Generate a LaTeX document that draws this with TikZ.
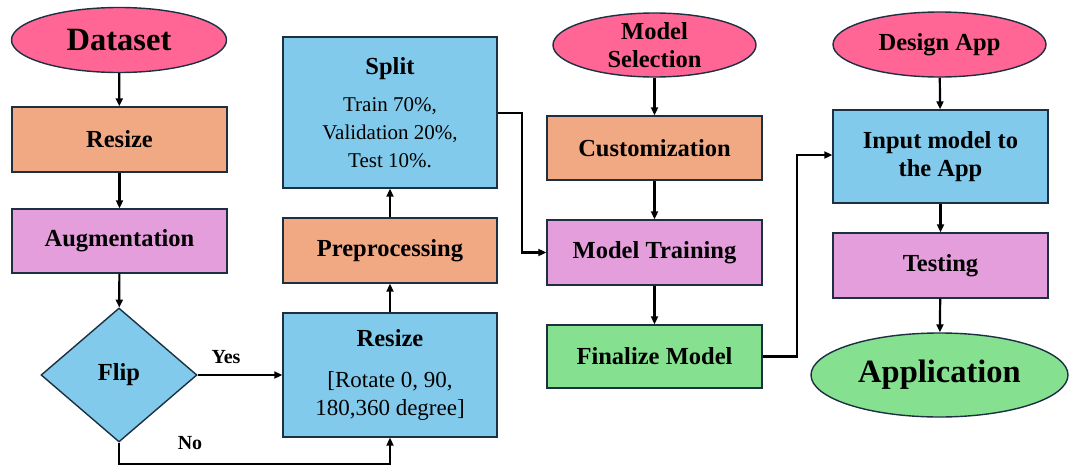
\documentclass[tikz,border=0pt]{standalone}
\usepackage{fontspec}
\setmainfont{Liberation Serif}
\usetikzlibrary{shapes.geometric,arrows.meta,positioning}
\definecolor{pinkfill}{RGB}{255,102,150}
\definecolor{salmon}{RGB}{241,169,131}
\definecolor{lilac}{RGB}{228,158,220}
\definecolor{skyb}{RGB}{130,202,235}
\definecolor{greenf}{RGB}{133,224,144}
\definecolor{edgec}{RGB}{28,48,66}
\newcommand{\regtext}{\mdseries\fontsize{23}{25}\selectfont}
\newcommand{\smalltext}{\mdseries\fontsize{21}{25}\selectfont}
\tikzset{
  base/.style={draw=edgec, line width=1.4pt, inner sep=0pt, align=center,
    font=\fontsize{24.5}{28}\selectfont\bfseries},
  boxs/.style={base, rectangle, minimum width=215pt},
  ell/.style={base, ellipse},
  arr/.style={line width=2.2pt, -{Triangle[length=8pt,width=7pt]}},
  lab/.style={font=\fontsize{20}{24}\selectfont\bfseries, inner sep=0pt},
}
\begin{document}
\begin{tikzpicture}[x=1pt,y=-1pt]
\useasboundingbox (0,0) rectangle (1069,466);
% column 1
\node[ell, fill=pinkfill, minimum width=215pt, minimum height=65pt,
  font=\fontsize{32.5}{36}\selectfont\bfseries] (dataset) at (119,40) {Dataset};
\node[boxs, fill=salmon, minimum height=65pt] (resize1) at (119.5,139.5) {Resize};
\node[boxs, fill=lilac, minimum height=64pt] (aug) at (119.5,241) {Augmentation};
\node[base, diamond, fill=skyb, minimum width=156pt, minimum height=134pt] (flip) at (119,375) {Flip};
% column 2
\node[boxs, fill=skyb, minimum width=214pt, minimum height=124pt] (resize2) at (390,375)
  {Resize\\[13pt]\regtext [Rotate 0, 90,\\\regtext 180,360 degree]};
\node[boxs, fill=salmon, minimum width=214pt, minimum height=65pt] (prep) at (390,250.5) {Preprocessing};
\node[boxs, fill=skyb, minimum width=214pt, minimum height=151pt] (split) at (390,112.5)
  {Split\\[9pt]\smalltext Train 70\%,\\\smalltext Validation 20\%,\\\smalltext Test 10\%.};
% column 3
\node[ell, fill=pinkfill, minimum width=203pt, minimum height=64pt] (msel) at (654.5,45) {Model\\Selection};
\node[boxs, fill=salmon, minimum height=64pt] (custom) at (654.5,148) {Customization};
\node[boxs, fill=lilac, minimum height=65pt] (train) at (654.5,252.5) {Model Training};
\node[boxs, fill=greenf, minimum height=63pt] (final) at (654.5,356.5) {Finalize Model};
% column 4
\node[ell, fill=pinkfill, minimum width=213pt, minimum height=65pt] (design) at (939.5,44.5) {Design App};
\node[boxs, fill=skyb, minimum height=93pt] (input) at (940.5,156.5) {Input model to\\the App};
\node[boxs, fill=lilac, minimum height=65pt] (testing) at (940.5,265.5) {Testing};
\node[ell, fill=greenf, minimum width=257pt, minimum height=84pt,
  font=\fontsize{32.5}{36}\selectfont\bfseries] (app) at (939.5,375) {Application};
% connectors
\draw[arr] (dataset) -- (resize1);
\draw[arr] (resize1) -- (aug);
\draw[arr] (aug) -- (flip);
\draw[arr] (flip.east) -- (resize2.west);
\node[lab] (yes) at (226,357) {Yes};
\coordinate (nocorner) at (119,464);
\draw[arr] (flip.south) -- (nocorner) -| (resize2.south);
\node[lab] (no) at (190,443) {No};
\draw[arr] (resize2) -- (prep);
\draw[arr] (prep) -- (split);
\coordinate (splitturn) at (522,113);
\draw[arr] (split.east |- splitturn) -- (splitturn) |- (train.west);
\draw[arr] (msel) -- (custom);
\draw[arr] (custom) -- (train);
\draw[arr] (train) -- (final);
\coordinate (finturn) at (797,356.5);
\coordinate (inpt) at (833,155);
\draw[arr] (final.east) -- (finturn) |- (input.west |- inpt);
\draw[arr] (design) -- (input);
\draw[arr] (input) -- (testing);
\draw[arr] (testing) -- (app);
\end{tikzpicture}
\end{document}
